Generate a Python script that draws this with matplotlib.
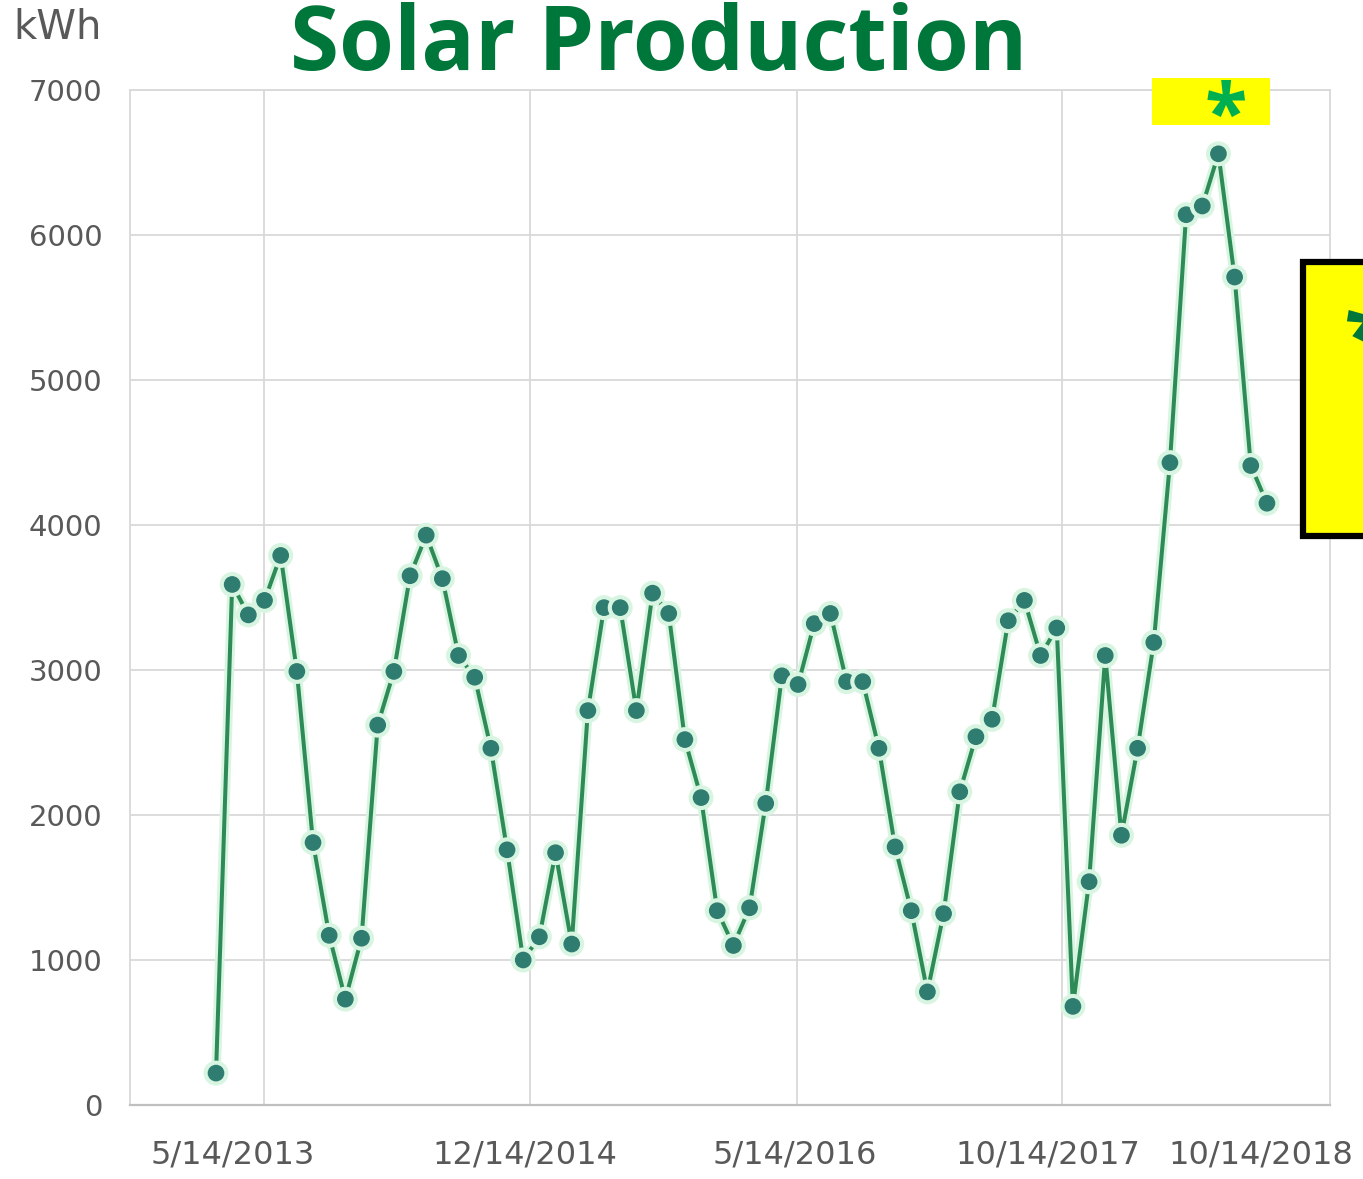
import matplotlib
matplotlib.use("Agg")
import matplotlib.pyplot as plt
import matplotlib.patches as patches
import matplotlib.patheffects as pe
import numpy as np

# monthly production, kWh
production = [220, 3590, 3380, 3480, 3790, 2990, 1810, 1170, 730, 1150,
              2620, 2990, 3650, 3930, 3630, 3100, 2950, 2460, 1760, 1000,
              1160, 1740, 1110, 2720, 3430, 3430, 2720, 3530, 3390, 2520,
              2120, 1340, 1100, 1360, 2080, 2960, 2900, 3320, 3390, 2920,
              2920, 2460, 1780, 1340, 780, 1320, 2160, 2540, 2660, 3340,
              3480, 3100, 3290, 680, 1540, 3100, 1860, 2460, 3190, 4430,
              6140, 6200, 6560, 5710, 4410, 4150]
months = np.arange(len(production))

# date gridlines and label positions (in month index units)
grid_pos = [2.97, 19.42, 35.93, 52.32]
label_pos = [1.05, 19.1, 35.8, 51.45, 64.6]
date_labels = ["5/14/2013", "12/14/2014", "5/14/2016", "10/14/2017", "10/14/2018"]
y_ticks = [0, 1000, 2000, 3000, 4000, 5000, 6000, 7000]

W, H = 1363, 1179
fig = plt.figure(figsize=(W / 100, H / 100), dpi=100)
ax = fig.add_axes([130 / W, 1 - 1105 / H, 1200 / W, 1015 / H])

ax.plot(months, production, color="#2e8b57", lw=2.9, marker="o", ms=11,
        markerfacecolor="#2f7d70", markeredgecolor="#2f7d70", zorder=3,
        path_effects=[pe.withStroke(linewidth=7, foreground="#d8f5e2")])

ax.set_xlim(-5.32, 68.9)
ax.set_ylim(0, 7000)
ax.set_yticks(y_ticks)
ax.set_yticklabels([str(v) for v in y_ticks])
ax.set_xticks(grid_pos)
ax.set_xticklabels([])
ax.set_xticks(label_pos, minor=True)
ax.set_xticklabels(date_labels, minor=True)

ax.grid(True, which="major", color="#d9d9d9", lw=1.3)
ax.set_axisbelow(True)
ax.tick_params(axis="both", which="both", length=0)
ax.tick_params(axis="y", pad=20, labelsize=21, labelcolor="#595959")
ax.tick_params(axis="x", which="minor", pad=25, labelsize=23, labelcolor="#595959")
for s in ["left", "top", "right"]:
    ax.spines[s].set_color("#d9d9d9")
    ax.spines[s].set_linewidth(1.3)
ax.spines["bottom"].set_color("#bfbfbf")
ax.spines["bottom"].set_linewidth(1.6)

fig.text(13 / W, 1 - 8 / H, "kWh", fontsize=29, color="#595959", ha="left", va="top")
fig.text(659 / W, 1 - 70 / H, "Solar Production", fontsize=64, fontweight="bold",
         family="Open Sans", color="#00773a", ha="center", va="baseline")

# yellow highlight above the peak
fig.patches.append(patches.Rectangle((1152 / W, 1 - 125 / H), 118 / W, 47 / H,
                                     transform=fig.transFigure, facecolor="#ffff00",
                                     edgecolor="none", zorder=5))
fig.text(1226 / W, 1 - 119 / H, "*", fontsize=56, fontweight="bold", color="#00b050",
         ha="center", va="center", family="Open Sans", zorder=6)

# boxed note on the right edge (cut off)
fig.patches.append(patches.Rectangle((1303 / W, 1 - 536 / H), 80 / W, 274 / H,
                                     transform=fig.transFigure, facecolor="#ffff00",
                                     edgecolor="black", lw=4.5, zorder=5))
fig.text(1343 / W, 1 - 344 / H, "*", fontsize=68, fontweight="bold", color="#00773a",
         ha="left", va="center", family="Open Sans", zorder=6)

fig.savefig("out.png", dpi=100)
